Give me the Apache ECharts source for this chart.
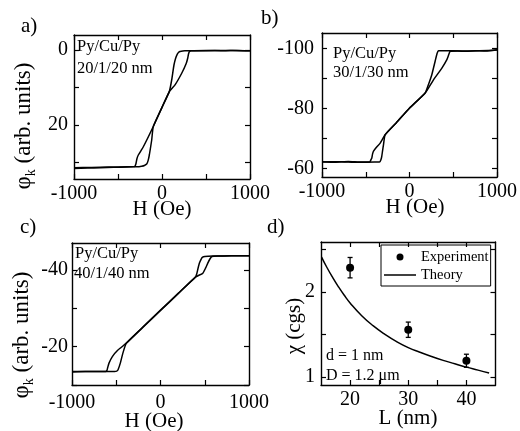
<!DOCTYPE html>
<html><head><meta charset="utf-8">
<script src="https://cdn.jsdelivr.net/npm/echarts@6/dist/echarts.min.js"></script>
<style>html,body{margin:0;padding:0;background:#fff}#c{width:520px;height:431px}</style>
</head><body><div id="c"></div>
<script>
// ---------- DATA ----------
// panel a: Py/Cu/Py 20/1/20 nm  [H (Oe), phi_k]
const aOuter = [[-1000,31.6],[-850,31.5],[-700,31.4],[-550,31.3],[-400,31.2],[-320,31.1],[-307,31.0],[-300,30.6],[-295,30.2],[-285,29.0],[-269,28.0],[-212,25.8],[-99,20.4],[0,15.3],[83,11.1],[148,9.3],[224,6.2],[275,3.6],[292,2.2],[302,1.0],[312,0.4],[330,0.2],[500,0.1],[700,0.2],[850,0.1],[1000,0.2]];
const aInner = [[-1000,31.4],[-800,31.3],[-600,31.2],[-400,31.1],[-260,31.1],[-231,31.0],[-200,30.8],[-174,30.4],[-158,29.5],[-144,28.0],[-117,24.0],[-99,20.4],[0,15.3],[83,11.1],[110,8.0],[136,4.0],[155,2.2],[174,1.1],[190,0.6],[205,0.4],[260,0.2],[500,0.2],[800,0.1],[1000,0.2]];
// panel b: Py/Cu/Py 30/1/30 nm
const bOuter = [[-1000,-62.2],[-850,-62.0],[-700,-62.3],[-550,-62.1],[-460,-62.1],[-449,-62.3],[-440,-62.9],[-431,-63.4],[-422,-64.8],[-411,-65.7],[-380,-66.9],[-335,-68.4],[-278,-71.2],[-150,-75.2],[0,-80.0],[179,-85.1],[274,-89.5],[370,-93.4],[427,-96.2],[450,-98.0],[465,-99.0],[550,-99.1],[650,-99.0],[750,-99.2],[850,-99.1],[950,-99.3],[1000,-99.5]];
const bInner = [[-1000,-62.1],[-800,-62.2],[-600,-62.0],[-400,-62.1],[-345,-62.1],[-335,-62.3],[-325,-63.0],[-317,-64.0],[-307,-66.0],[-297,-67.9],[-278,-71.2],[-150,-75.2],[0,-80.1],[179,-85.1],[220,-88.2],[255,-91.2],[293,-95.7],[315,-98.3],[331,-99.2],[400,-99.2],[600,-99.1],[800,-99.2],[1000,-99.4]];
// panel c: Py/Cu/Py 40/1/40 nm
const cOuter = [[-1000,-13.4],[-850,-13.5],[-700,-13.5],[-620,-13.5],[-605,-13.8],[-595,-14.7],[-582,-15.7],[-544,-17.4],[-481,-19.1],[-386,-20.9],[-200,-25.0],[0,-29.4],[200,-33.8],[394,-38.1],[477,-39.1],[510,-40.5],[533,-41.7],[560,-42.9],[582,-43.5],[650,-43.6],[800,-43.65],[1000,-43.7]];
const cInner = [[-1000,-13.5],[-800,-13.5],[-600,-13.5],[-518,-13.5],[-495,-13.6],[-481,-13.9],[-454,-15.7],[-425,-18.3],[-386,-20.9],[-200,-25.1],[0,-29.5],[200,-33.9],[394,-38.1],[410,-39.0],[420,-40.0],[439,-41.7],[460,-42.8],[476,-43.3],[500,-43.5],[600,-43.6],[800,-43.65],[1000,-43.7]];
// panel d: susceptibility vs L
const dExpL = [20, 30, 40];
const dExpChi = [2.285, 1.555, 1.19];
const dExpErr = [0.12, 0.09, 0.077];
const dTheoryL = [15.1,16,17,18,19,20,22,24,26,28,30,32,34,36,38,40,42,43.9];
const dTheoryChi = [2.41,2.29,2.17,2.06,1.96,1.87,1.72,1.60,1.50,1.415,1.345,1.29,1.24,1.195,1.155,1.115,1.08,1.045];
// ticks / labels
const hLabels = [-1000, 0, 1000];
const hTicks = [-1000, -500, 0, 500, 1000];
const aYLabels = [0, 20];      const aYTicks = [0, 10, 20, 30];
const bYLabels = [-100, -80, -60]; const bYTicks = [-100, -90, -80, -70, -60];
const cYLabels = [-40, -20];   const cYTicks = [-40, -30, -20, -10];
const dXLabels = [20, 30, 40]; const dXTicks = [20, 25, 30, 35, 40];
const dYLabels = [1, 2];       const dYTicks = [1, 1.5, 2, 2.5];

// ---------- CHART ----------
const FONT = '"Liberation Serif","Times New Roman",serif';
const chart = echarts.init(document.getElementById('c'), null, {renderer: 'canvas'});

const grids = [
  {left: 74, top: 35, width: 176, height: 144},
  {left: 322, top: 33, width: 175, height: 144},
  {left: 72, top: 243, width: 177, height: 142},
  {left: 321, top: 242, width: 174.5, height: 143}
].map(g => Object.assign({containLabel: false, outerBoundsMode: 'none'}, g));

function axisBase(gi, min, max, labels, ticks, pos, showLabel, margin, inverse) {
  return {
    type: 'value', gridIndex: gi, min: min, max: max, position: pos, inverse: !!inverse,
    axisLine: {show: true, onZero: false, lineStyle: {color: '#000', width: 1.4}},
    axisTick: {show: true, inside: true, length: 5, customValues: ticks, lineStyle: {color: '#000', width: 1.2}},
    axisLabel: {show: showLabel, customValues: labels, formatter: v => String(v), color: '#000',
                fontFamily: FONT, fontSize: 20, margin: margin},
    splitLine: {show: false}
  };
}
const xAxes = [
  axisBase(0, -1000, 1000, hLabels, hTicks, 'bottom', true, 5),
  axisBase(0, -1000, 1000, hLabels, hTicks, 'top', false, 5),
  axisBase(1, -1000, 1000, hLabels, hTicks, 'bottom', true, 5),
  axisBase(1, -1000, 1000, hLabels, hTicks, 'top', false, 5),
  axisBase(2, -1000, 1000, hLabels, hTicks, 'bottom', true, 8),
  axisBase(2, -1000, 1000, hLabels, hTicks, 'top', false, 5),
  axisBase(3, 15, 45, dXLabels, dXTicks, 'bottom', true, 5),
  axisBase(3, 15, 45, dXLabels, dXTicks, 'top', false, 5)
];
const yAxes = [
  axisBase(0, -4, 34.4, aYLabels, aYTicks, 'left', true, 6, true),
  axisBase(0, -4, 34.4, aYLabels, aYTicks, 'right', false, 6, true),
  axisBase(1, -105.1, -57.1, bYLabels, bYTicks, 'left', true, 8, true),
  axisBase(1, -105.1, -57.1, bYLabels, bYTicks, 'right', false, 8, true),
  axisBase(2, -47, -10, cYLabels, cYTicks, 'left', true, 4, true),
  axisBase(2, -47, -10, cYLabels, cYTicks, 'right', false, 4, true),
  axisBase(3, 0.905, 2.587, dYLabels, dYTicks, 'left', true, 6),
  axisBase(3, 0.905, 2.587, dYLabels, dYTicks, 'right', false, 6)
];

function loop(name, data, ai) {
  return {name: name, type: 'line', xAxisIndex: ai, yAxisIndex: ai, data: data,
    showSymbol: false, symbol: 'none', smooth: 0.15, lineStyle: {color: '#000', width: 1.5},
    silent: true, z: 3};
}

const series = [
  loop('a1', aOuter, 0), loop('a2', aInner, 0),
  loop('b1', bOuter, 2), loop('b2', bInner, 2),
  loop('c1', cOuter, 4), loop('c2', cInner, 4),
  {
    name: 'Theory', type: 'line', xAxisIndex: 6, yAxisIndex: 6, smooth: true,
    data: dTheoryL.map((l, i) => [l, dTheoryChi[i]]),
    showSymbol: false, symbol: 'none', lineStyle: {color: '#000', width: 1.5}, itemStyle: {color: '#000'}
  },
  {
    name: 'Experiment', type: 'scatter', xAxisIndex: 6, yAxisIndex: 6,
    data: dExpL.map((l, i) => [l, dExpChi[i]]),
    symbol: 'circle', symbolSize: 8, itemStyle: {color: '#000', opacity: 1}, z: 5
  },
  {
    name: 'err', type: 'custom', xAxisIndex: 6, yAxisIndex: 6,
    data: dExpL.map((l, i) => [l, dExpChi[i] - dExpErr[i], dExpChi[i] + dExpErr[i]]),
    renderItem: function (params, api) {
      const lo = api.coord([api.value(0), api.value(1)]);
      const hi = api.coord([api.value(0), api.value(2)]);
      const w = 2.5;
      const st = {stroke: '#000', lineWidth: 1.3};
      return {type: 'group', children: [
        {type: 'line', shape: {x1: lo[0], y1: lo[1], x2: hi[0], y2: hi[1]}, style: st},
        {type: 'line', shape: {x1: lo[0] - w, y1: lo[1], x2: lo[0] + w, y2: lo[1]}, style: st},
        {type: 'line', shape: {x1: hi[0] - w, y1: hi[1], x2: hi[0] + w, y2: hi[1]}, style: st}
      ]};
    },
    z: 4
  }
];

function txt(x, y, s, size) {
  return {type: 'text', x: x, y: y, silent: true,
    style: {text: s, fill: '#000', font: size + 'px ' + FONT, textAlign: 'left', textVerticalAlign: 'middle'}};
}
function ytitle(x, y, sym, sub, tail, size) {
  return {type: 'text', x: x, y: y, rotation: Math.PI / 2, silent: true,
    style: {text: '{p|' + sym + '}' + (sub ? '{s|' + sub + '}' : '') + '{p|' + tail + '}',
      fill: '#000', align: 'center', verticalAlign: 'middle',
      rich: {
        p: {fontFamily: FONT, fontSize: size, lineHeight: 28, fill: '#000', verticalAlign: 'middle'},
        s: {fontFamily: FONT, fontSize: 14, lineHeight: 28, fill: '#000', verticalAlign: 'bottom'}
      }}};
}
function ctr(x, y, s, size) {
  return {type: 'text', x: x, y: y, silent: true,
    style: {text: s, fill: '#000', font: size + 'px ' + FONT, textAlign: 'center', textVerticalAlign: 'middle'}};
}

const graphics = [
  txt(21, 26, 'a)', 21), txt(261, 18, 'b)', 21), txt(20, 227, 'c)', 21), txt(267, 227, 'd)', 21),
  txt(77, 47, 'Py/Cu/Py', 16.5), txt(77, 69, '20/1/20 nm', 16.5),
  txt(333, 54, 'Py/Cu/Py', 16.5), txt(333, 73, '30/1/30 nm', 16.5),
  txt(75, 254, 'Py/Cu/Py', 16.5), txt(74, 274, '40/1/40 nm', 16.5),
  txt(326, 356, 'd = 1 nm', 16), txt(326, 376, 'D = 1.2 μm', 16),
  ctr(162, 209, 'H (Oe)', 21), ctr(415, 207, 'H (Oe)', 21),
  ctr(154, 421, 'H (Oe)', 21), ctr(408, 418, 'L (nm)', 21),
  ytitle(24, 126, 'φ', 'k', ' (arb. units)', 23),
  ytitle(22, 335, 'φ', 'k', ' (arb. units)', 23),
  ytitle(294, 326, 'χ', '', ' (cgs)', 21)
];

chart.setOption({
  animation: false,
  backgroundColor: '#fff',
  grid: grids,
  xAxis: xAxes,
  yAxis: yAxes,
  legend: {
    data: [
      {name: 'Experiment', icon: 'circle'},
      {name: 'Theory', icon: 'path://M0,0H32V1.5H0Z'}
    ],
    orient: 'vertical', left: 381, top: 245,
    borderColor: '#000', borderWidth: 1, padding: [4, 2, 3, 3], itemGap: 2,
    itemWidth: 32, itemHeight: 7, selectedMode: false,
    itemStyle: {opacity: 1},
    textStyle: {fontFamily: FONT, fontSize: 14.5, color: '#000', lineHeight: 16}
  },
  graphic: graphics,
  series: series
});
</script></body></html>
